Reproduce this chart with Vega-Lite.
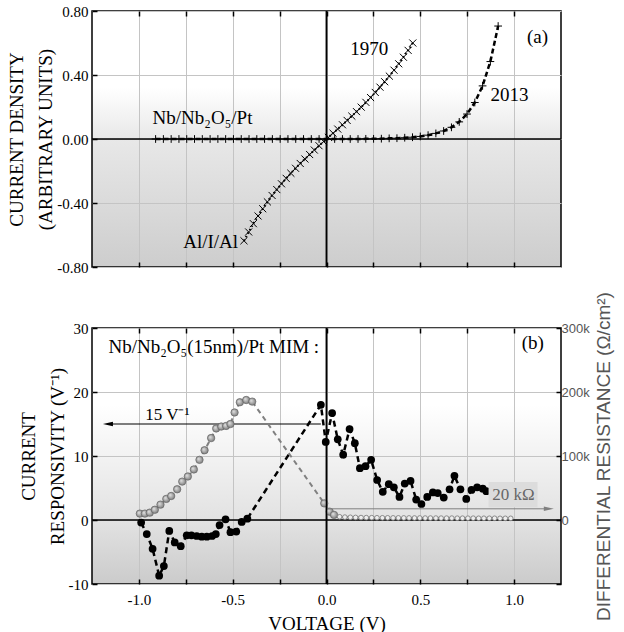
{
  "$schema": "https://vega.github.io/schema/vega-lite/v6.json",
  "background": "white",
  "padding": {"left": 7, "top": 3, "right": 2, "bottom": 0},
  "spacing": 14,
  "config": {
    "font": "Liberation Serif",
    "axis": {
      "labelFont": "Liberation Serif", "labelFontSize": 15, "labelColor": "black",
      "titleFont": "Liberation Serif", "titleFontSize": 19, "titleFontWeight": "normal", "titleColor": "black",
      "domain": false, "tickColor": "black", "tickSize": -5, "tickWidth": 1.5, "labelPadding": 9,
      "gridColor": "#c4c4c4", "gridWidth": 1
    },
    "view": {"stroke": "black", "strokeWidth": 1.5}
  },
  "datasets": {
    "one": [{}],
    "al": [
      {"v": -0.44, "j": -0.636}, {"v": -0.415, "j": -0.581}, {"v": -0.39, "j": -0.529}, {"v": -0.365, "j": -0.481},
      {"v": -0.34, "j": -0.436}, {"v": -0.315, "j": -0.393}, {"v": -0.29, "j": -0.353}, {"v": -0.265, "j": -0.316},
      {"v": -0.24, "j": -0.28}, {"v": -0.215, "j": -0.246}, {"v": -0.19, "j": -0.214}, {"v": -0.165, "j": -0.183},
      {"v": -0.14, "j": -0.153}, {"v": -0.115, "j": -0.125}, {"v": -0.09, "j": -0.097}, {"v": -0.065, "j": -0.069},
      {"v": -0.04, "j": -0.042}, {"v": -0.015, "j": -0.016}, {"v": 0.01, "j": 0.01}, {"v": 0.035, "j": 0.036},
      {"v": 0.06, "j": 0.062}, {"v": 0.085, "j": 0.089}, {"v": 0.11, "j": 0.116}, {"v": 0.135, "j": 0.143},
      {"v": 0.16, "j": 0.171}, {"v": 0.185, "j": 0.199}, {"v": 0.21, "j": 0.229}, {"v": 0.235, "j": 0.259},
      {"v": 0.26, "j": 0.291}, {"v": 0.285, "j": 0.324}, {"v": 0.31, "j": 0.358}, {"v": 0.335, "j": 0.393},
      {"v": 0.36, "j": 0.43}, {"v": 0.385, "j": 0.47}, {"v": 0.41, "j": 0.511}, {"v": 0.435, "j": 0.554},
      {"v": 0.46, "j": 0.6}
    ],
    "nb": [
      {"v": -0.911, "j": 0}, {"v": -0.8695, "j": 0}, {"v": -0.828, "j": 0}, {"v": -0.7865, "j": 0},
      {"v": -0.745, "j": 0}, {"v": -0.7035, "j": 0}, {"v": -0.662, "j": 0}, {"v": -0.6205, "j": 0},
      {"v": -0.579, "j": 0}, {"v": -0.5375, "j": 0}, {"v": -0.496, "j": 0}, {"v": -0.4545, "j": 0},
      {"v": -0.413, "j": 0}, {"v": -0.3715, "j": 0}, {"v": -0.33, "j": 0}, {"v": -0.2885, "j": 0},
      {"v": -0.247, "j": 0}, {"v": -0.2055, "j": 0}, {"v": -0.164, "j": 0}, {"v": -0.1225, "j": 0},
      {"v": -0.081, "j": 0}, {"v": -0.0395, "j": 0}, {"v": 0.002, "j": 0}, {"v": 0.0435, "j": 0},
      {"v": 0.085, "j": 0}, {"v": 0.1265, "j": 0}, {"v": 0.168, "j": 0}, {"v": 0.2095, "j": 0.001},
      {"v": 0.251, "j": 0.001}, {"v": 0.2925, "j": 0.002}, {"v": 0.334, "j": 0.004}, {"v": 0.3755, "j": 0.005},
      {"v": 0.417, "j": 0.008}, {"v": 0.4585, "j": 0.011}, {"v": 0.5, "j": 0.016}, {"v": 0.5415, "j": 0.024},
      {"v": 0.583, "j": 0.035}, {"v": 0.6245, "j": 0.05}, {"v": 0.666, "j": 0.073}, {"v": 0.7075, "j": 0.107},
      {"v": 0.749, "j": 0.156}, {"v": 0.7905, "j": 0.228}, {"v": 0.832, "j": 0.332}, {"v": 0.8735, "j": 0.484},
      {"v": 0.915, "j": 0.706}
    ],
    "resp": [
      {"v": -0.988, "r": -0.4}, {"v": -0.958, "r": -2.2}, {"v": -0.927, "r": -4.5}, {"v": -0.892, "r": -8.7},
      {"v": -0.867, "r": -7.2}, {"v": -0.838, "r": -1.7}, {"v": -0.809, "r": -3.5}, {"v": -0.777, "r": -4.1},
      {"v": -0.745, "r": -2.4}, {"v": -0.72, "r": -2.4}, {"v": -0.692, "r": -2.5}, {"v": -0.665, "r": -2.6},
      {"v": -0.638, "r": -2.6}, {"v": -0.61, "r": -2.5}, {"v": -0.59, "r": -2.2}, {"v": -0.57, "r": -0.8},
      {"v": -0.538, "r": 0.1}, {"v": -0.512, "r": -1.9}, {"v": -0.481, "r": -1.8}, {"v": -0.452, "r": -0.3},
      {"v": -0.422, "r": 0.2}, {"v": -0.03, "r": 18.0}, {"v": -0.004, "r": 12.2}, {"v": 0.03, "r": 16.7},
      {"v": 0.06, "r": 12.6}, {"v": 0.089, "r": 10.2}, {"v": 0.123, "r": 14.2}, {"v": 0.151, "r": 12.0},
      {"v": 0.178, "r": 8.1}, {"v": 0.208, "r": 8.4}, {"v": 0.238, "r": 9.4}, {"v": 0.27, "r": 6.25},
      {"v": 0.3, "r": 4.4}, {"v": 0.332, "r": 5.6}, {"v": 0.359, "r": 5.1}, {"v": 0.389, "r": 3.6},
      {"v": 0.417, "r": 5.7}, {"v": 0.448, "r": 6.1}, {"v": 0.478, "r": 3.2}, {"v": 0.506, "r": 2.5},
      {"v": 0.537, "r": 3.6}, {"v": 0.567, "r": 4.3}, {"v": 0.593, "r": 4.2}, {"v": 0.625, "r": 3.5},
      {"v": 0.656, "r": 4.8}, {"v": 0.682, "r": 6.9}, {"v": 0.714, "r": 4.8}, {"v": 0.745, "r": 3.3},
      {"v": 0.773, "r": 4.7}, {"v": 0.803, "r": 5.1}, {"v": 0.833, "r": 4.9}, {"v": 0.852, "r": 4.5}
    ],
    "res": [
      {"v": -0.995, "rd": 10000}, {"v": -0.968, "rd": 10000}, {"v": -0.942, "rd": 11500}, {"v": -0.915, "rd": 16000},
      {"v": -0.885, "rd": 24000}, {"v": -0.854, "rd": 33000}, {"v": -0.828, "rd": 37500}, {"v": -0.796, "rd": 48000},
      {"v": -0.769, "rd": 60000}, {"v": -0.739, "rd": 68000}, {"v": -0.707, "rd": 79000}, {"v": -0.677, "rd": 94000},
      {"v": -0.65, "rd": 109000}, {"v": -0.615, "rd": 128000}, {"v": -0.588, "rd": 143000}, {"v": -0.561, "rd": 146000},
      {"v": -0.535, "rd": 147000}, {"v": -0.512, "rd": 150000}, {"v": -0.49, "rd": 168000}, {"v": -0.462, "rd": 184000},
      {"v": -0.428, "rd": 187500}, {"v": -0.396, "rd": 185000}, {"v": -0.012, "rd": 26000}, {"v": 0.017, "rd": 13000},
      {"v": 0.04, "rd": 8000}, {"v": 0.07, "rd": 5000}, {"v": 0.098, "rd": 4500}, {"v": 0.127, "rd": 4200},
      {"v": 0.155, "rd": 4000}, {"v": 0.184, "rd": 3800}, {"v": 0.212, "rd": 3700}, {"v": 0.241, "rd": 3600},
      {"v": 0.269, "rd": 3500}, {"v": 0.298, "rd": 3400}, {"v": 0.326, "rd": 3400}, {"v": 0.355, "rd": 3300},
      {"v": 0.383, "rd": 3300}, {"v": 0.412, "rd": 3200}, {"v": 0.44, "rd": 3200}, {"v": 0.469, "rd": 3100},
      {"v": 0.497, "rd": 3100}, {"v": 0.526, "rd": 3000}, {"v": 0.554, "rd": 3000}, {"v": 0.583, "rd": 3000},
      {"v": 0.611, "rd": 2900}, {"v": 0.64, "rd": 2900}, {"v": 0.668, "rd": 2900}, {"v": 0.697, "rd": 2800},
      {"v": 0.725, "rd": 2800}, {"v": 0.754, "rd": 2800}, {"v": 0.782, "rd": 2800}, {"v": 0.811, "rd": 2700},
      {"v": 0.839, "rd": 2700}, {"v": 0.868, "rd": 2700}, {"v": 0.896, "rd": 2700}, {"v": 0.925, "rd": 2600},
      {"v": 0.953, "rd": 2600}, {"v": 0.982, "rd": 2600}
    ]
  },
  "vconcat": [
    {
      "width": 469,
      "height": 256,
      "view": {
        "stroke": "black", "strokeWidth": 1.5,
        "fill": {"gradient": "linear", "x1": 0, "y1": 0, "x2": 0, "y2": 1,
          "stops": [{"offset": 0, "color": "#ffffff"}, {"offset": 0.3, "color": "#ffffff"}, {"offset": 0.5, "color": "#e8e8e8"}, {"offset": 1, "color": "#cdcdcd"}]}
      },
      "resolve": {"axis": {"x": "independent"}},
      "layer": [
        {
          "layer": [
            {
              "data": {"name": "one"},
              "mark": {"type": "rule", "color": "black", "strokeWidth": 1.5},
              "encoding": {
                "y": {"datum": 0, "type": "quantitative",
                  "scale": {"domain": [-0.8, 0.8], "nice": false, "zero": false},
                  "axis": {"orient": "left", "values": [-0.8, -0.6, -0.4, -0.2, 0, 0.2, 0.4, 0.6, 0.8],
                    "labelExpr": "abs(round(datum.value*10))%4==0 ? replace(format(datum.value,'.2f'),'−','-') : ''",
                    "title": ["CURRENT DENSITY", "(ARBITRARY UNITS)"], "titleLineHeight": 29, "titlePadding": 1,
                    "grid": true,
                    "gridDash": {"condition": {"test": "abs(round(datum.value*10))%4!=0", "value": [2, 2]}, "value": []}}}
              }
            },
            {
              "data": {"name": "one"},
              "mark": {"type": "rule", "color": "black", "strokeWidth": 1.5},
              "encoding": {
                "x": {"datum": 0, "type": "quantitative",
                  "scale": {"domain": [-1.25, 1.25], "nice": false, "zero": false},
                  "axis": {"orient": "bottom", "values": [-1, -0.75, -0.5, -0.25, 0, 0.25, 0.5, 0.75, 1],
                    "labels": false, "title": null, "grid": true}}
              }
            },
            {
              "data": {"name": "al"},
              "mark": {"type": "line", "color": "black", "strokeWidth": 2, "strokeDash": [1.5, 2.5]},
              "encoding": {
                "x": {"field": "v", "type": "quantitative"},
                "y": {"field": "j", "type": "quantitative"}
              }
            },
            {
              "data": {"name": "al"},
              "mark": {"type": "point", "shape": "M-1,-1L1,1M-1,1L1,-1", "filled": false, "color": "black", "strokeWidth": 1, "size": 50, "opacity": 1},
              "encoding": {
                "x": {"field": "v", "type": "quantitative"},
                "y": {"field": "j", "type": "quantitative"}
              }
            },
            {
              "data": {"name": "nb"},
              "mark": {"type": "line", "color": "black", "strokeWidth": 2.5, "strokeDash": [5, 3]},
              "encoding": {
                "x": {"field": "v", "type": "quantitative"},
                "y": {"field": "j", "type": "quantitative"}
              }
            },
            {
              "data": {"name": "nb"},
              "mark": {"type": "point", "shape": "M-1,0L1,0M0,-1L0,1", "filled": false, "color": "black", "strokeWidth": 1, "size": 60, "opacity": 1},
              "encoding": {
                "x": {"field": "v", "type": "quantitative"},
                "y": {"field": "j", "type": "quantitative"}
              }
            },
            {
              "data": {"name": "one"},
              "mark": {"type": "text", "text": "1970", "fontSize": 19, "font": "Liberation Serif", "color": "black"},
              "encoding": {"x": {"datum": 0.228, "type": "quantitative"}, "y": {"datum": 0.56, "type": "quantitative"}}
            },
            {
              "data": {"name": "one"},
              "mark": {"type": "text", "text": "2013", "fontSize": 19, "font": "Liberation Serif", "color": "black"},
              "encoding": {"x": {"datum": 0.975, "type": "quantitative"}, "y": {"datum": 0.275, "type": "quantitative"}}
            },
            {
              "data": {"name": "one"},
              "mark": {"type": "text", "text": "(a)", "fontSize": 19, "font": "Liberation Serif", "color": "black"},
              "encoding": {"x": {"datum": 1.125, "type": "quantitative"}, "y": {"datum": 0.64, "type": "quantitative"}}
            },
            {
              "data": {"name": "one"},
              "mark": {"type": "text", "text": "Nb/Nb₂O₅/Pt", "fontSize": 19, "font": "Liberation Serif", "color": "black"},
              "encoding": {"x": {"datum": -0.661, "type": "quantitative"}, "y": {"datum": 0.13, "type": "quantitative"}}
            },
            {
              "data": {"name": "one"},
              "mark": {"type": "text", "text": "Al/I/Al", "fontSize": 19, "font": "Liberation Serif", "color": "black", "align": "right", "dx": -4},
              "encoding": {"x": {"datum": -0.45, "type": "quantitative"}, "y": {"datum": -0.644, "type": "quantitative"}}
            }
          ]
        },
        {
          "layer": [
            {
              "data": {"name": "one"},
              "mark": {"type": "rule", "color": "black", "strokeWidth": 1.5},
              "encoding": {
                "x": {"datum": 0, "type": "quantitative",
                  "axis": {"orient": "top", "values": [-1, -0.75, -0.5, -0.25, 0, 0.25, 0.5, 0.75, 1], "labels": false, "title": null, "grid": false}}
              }
            }
          ]
        }
      ]
    },
    {
      "width": 469,
      "height": 256,
      "view": {
        "stroke": "black", "strokeWidth": 1.5,
        "fill": {"gradient": "linear", "x1": 0, "y1": 0, "x2": 0, "y2": 1,
          "stops": [{"offset": 0, "color": "#ffffff"}, {"offset": 0.3, "color": "#ffffff"}, {"offset": 0.75, "color": "#e2e2e2"}, {"offset": 1, "color": "#cbcbcb"}]}
      },
      "resolve": {"scale": {"y": "independent"}, "axis": {"x": "independent"}},
      "layer": [
        {
          "layer": [
            {
              "data": {"name": "one"},
              "mark": {"type": "rule", "color": "black", "strokeWidth": 1.5},
              "encoding": {
                "y": {"datum": 0, "type": "quantitative",
                  "scale": {"domain": [-10, 30], "nice": false, "zero": false},
                  "axis": {"orient": "left", "values": [-10, -5, 0, 5, 10, 15, 20, 25, 30],
                    "labelExpr": "datum.value%10==0 ? replace(format(datum.value,'d'),'−','-') : ''",
                    "title": ["CURRENT", "RESPONSIVITY (V⁻¹)"], "titleLineHeight": 29, "titlePadding": 1,
                    "grid": true,
                    "gridDash": {"condition": {"test": "datum.value%10!=0", "value": [2, 2]}, "value": []}}}
              }
            },
            {
              "data": {"name": "one"},
              "mark": {"type": "rule", "color": "black", "strokeWidth": 1.5},
              "encoding": {
                "x": {"datum": 0, "type": "quantitative",
                  "scale": {"domain": [-1.25, 1.25], "nice": false, "zero": false},
                  "axis": {"orient": "bottom", "values": [-1, -0.75, -0.5, -0.25, 0, 0.25, 0.5, 0.75, 1],
                    "labelExpr": "abs(round(datum.value*4))%2==0 ? replace(format(datum.value,'.1f'),'−','-') : ''",
                    "labelPadding": 13, "title": "VOLTAGE (V)", "titlePadding": 7, "grid": true}}
              }
            },
            {
              "data": {"name": "one"},
              "mark": {"type": "rule", "color": "black", "strokeWidth": 1},
              "encoding": {
                "x": {"datum": -1.17, "type": "quantitative"},
                "x2": {"datum": -0.03},
                "y": {"datum": 15, "type": "quantitative"}
              }
            },
            {
              "data": {"name": "one"},
              "mark": {"type": "point", "shape": "M-1,0L1,-0.45L1,0.45Z", "filled": true, "color": "black", "size": 100, "opacity": 1},
              "encoding": {
                "x": {"datum": -1.165, "type": "quantitative"},
                "y": {"datum": 15, "type": "quantitative"}
              }
            },
            {
              "data": {"name": "resp"},
              "mark": {"type": "line", "color": "black", "strokeWidth": 2.5, "strokeDash": [6, 4]},
              "encoding": {
                "x": {"field": "v", "type": "quantitative"},
                "y": {"field": "r", "type": "quantitative"}
              }
            },
            {
              "data": {"name": "resp"},
              "mark": {"type": "point", "filled": true, "color": "black", "size": 60, "opacity": 1, "shape": "circle"},
              "encoding": {
                "x": {"field": "v", "type": "quantitative"},
                "y": {"field": "r", "type": "quantitative"}
              }
            },
            {
              "data": {"name": "one"},
              "mark": {"type": "text", "text": "Nb/Nb₂O₅(15nm)/Pt MIM :", "fontSize": 19, "font": "Liberation Serif", "color": "black", "align": "left"},
              "encoding": {"x": {"datum": -1.162, "type": "quantitative"}, "y": {"datum": 27.0, "type": "quantitative"}}
            },
            {
              "data": {"name": "one"},
              "mark": {"type": "text", "text": "(b)", "fontSize": 19, "font": "Liberation Serif", "color": "black"},
              "encoding": {"x": {"datum": 1.1, "type": "quantitative"}, "y": {"datum": 27.6, "type": "quantitative"}}
            },
            {
              "data": {"name": "one"},
              "mark": {"type": "text", "text": "15 V⁻¹", "fontSize": 17, "font": "Liberation Serif", "color": "black"},
              "encoding": {"x": {"datum": -0.848, "type": "quantitative"}, "y": {"datum": 16.4, "type": "quantitative"}}
            }
          ]
        },
        {
          "layer": [
            {
              "data": {"name": "res"},
              "mark": {"type": "line", "color": "#808080", "strokeWidth": 2, "strokeDash": [5, 4]},
              "encoding": {
                "x": {"field": "v", "type": "quantitative", "axis": null},
                "y": {"field": "rd", "type": "quantitative",
                  "scale": {"domain": [-100000, 300000], "nice": false, "zero": false},
                  "axis": {"orient": "right", "values": [-100000, -50000, 0, 50000, 100000, 150000, 200000, 250000, 300000],
                    "labelExpr": "datum.value>=0 && datum.value%100000==0 ? (datum.value==0 ? '0' : (datum.value/1000)+'k') : ''",
                    "labelFont": "Liberation Sans", "labelFontSize": 13, "labelColor": "#555555", "labelPadding": 5,
                    "title": "DIFFERENTIAL RESISTANCE (Ω/cm²)", "titleFont": "Liberation Sans", "titleFontSize": 19,
                    "titleColor": "#555555", "titleAngle": 270, "titlePadding": 24, "grid": false}}
              }
            },
            {
              "data": {"name": "res"},
              "transform": [{"filter": "datum.v < 0.06"}],
              "mark": {"type": "point", "filled": true, "size": 55, "opacity": 1, "shape": "circle", "stroke": "#666666", "strokeWidth": 0.7,
                "fill": {"gradient": "radial", "x1": 0.35, "y1": 0.35, "r1": 0, "x2": 0.5, "y2": 0.5, "r2": 0.6,
                  "stops": [{"offset": 0, "color": "#e6e6e6"}, {"offset": 1, "color": "#6e6e6e"}]}},
              "encoding": {
                "x": {"field": "v", "type": "quantitative", "axis": null},
                "y": {"field": "rd", "type": "quantitative"}
              }
            },
            {
              "data": {"name": "res"},
              "transform": [{"filter": "datum.v >= 0.06"}],
              "mark": {"type": "point", "filled": true, "size": 22, "opacity": 1, "shape": "circle", "stroke": "#808080", "strokeWidth": 0.9, "fill": "#eeeeee"},
              "encoding": {
                "x": {"field": "v", "type": "quantitative", "axis": null},
                "y": {"field": "rd", "type": "quantitative"}
              }
            },
            {
              "data": {"name": "one"},
              "mark": {"type": "rect", "color": "#dcdcdc", "opacity": 1},
              "encoding": {
                "x": {"datum": 0.864, "type": "quantitative", "axis": null},
                "x2": {"datum": 1.125},
                "y": {"datum": 59400, "type": "quantitative"},
                "y2": {"datum": 20000}
              }
            },
            {
              "data": {"name": "one"},
              "mark": {"type": "text", "text": "20 kΩ", "fontSize": 17, "font": "Liberation Serif", "color": "#666666"},
              "encoding": {"x": {"datum": 0.997, "type": "quantitative", "axis": null}, "y": {"datum": 39000, "type": "quantitative"}}
            },
            {
              "data": {"name": "one"},
              "mark": {"type": "rule", "color": "#808080", "strokeWidth": 1},
              "encoding": {
                "x": {"datum": 0, "type": "quantitative", "axis": null},
                "x2": {"datum": 1.17},
                "y": {"datum": 17500, "type": "quantitative"}
              }
            },
            {
              "data": {"name": "one"},
              "mark": {"type": "point", "shape": "M1,0L-1,-0.45L-1,0.45Z", "filled": true, "color": "#808080", "size": 100, "opacity": 1},
              "encoding": {
                "x": {"datum": 1.185, "type": "quantitative", "axis": null},
                "y": {"datum": 17500, "type": "quantitative"}
              }
            }
          ]
        },
        {
          "layer": [
            {
              "data": {"name": "one"},
              "mark": {"type": "rule", "color": "black", "strokeWidth": 1.5},
              "encoding": {
                "x": {"datum": 0, "type": "quantitative",
                  "axis": {"orient": "top", "values": [-1, -0.75, -0.5, -0.25, 0, 0.25, 0.5, 0.75, 1], "labels": false, "title": null, "grid": false}}
              }
            }
          ]
        }
      ]
    }
  ]
}
